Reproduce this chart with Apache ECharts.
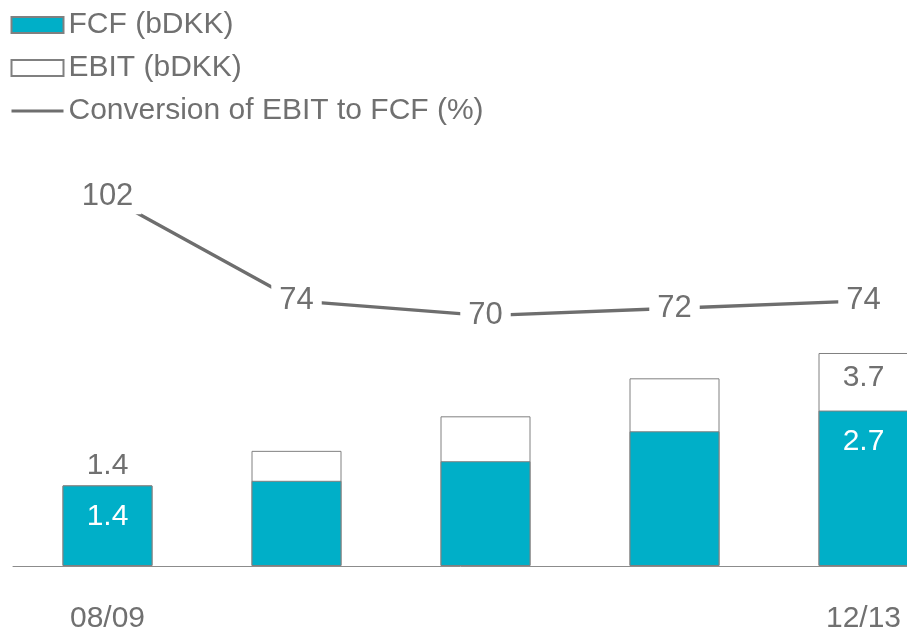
<!DOCTYPE html>
<html>
<head>
<meta charset="utf-8">
<title>FCF and EBIT</title>
<script src="https://cdn.jsdelivr.net/npm/echarts@6/dist/echarts.min.js"></script>
<style>
  html, body { margin: 0; padding: 0; background: #ffffff; }
  #chart { width: 907px; height: 633px; }
</style>
</head>
<body>
<div id="chart"></div>
<script>
// Fiscal years
const categories = ['08/09', '09/10', '10/11', '11/12', '12/13'];
// Free cash flow, bDKK
const fcfValues = [1.4, 1.48, 1.82, 2.34, 2.7];
// EBIT, bDKK
const ebitValues = [1.4, 2.0, 2.6, 3.26, 3.7];
// Conversion of EBIT to FCF, %
const conversionValues = [102, 74, 70, 72, 74];

const TEXT = '#707070';
const TEAL = '#00AFC8';
const BORDER = '#808080';
const LINE = '#6e6e6e';
const FONT = 'Liberation Sans, Arial, sans-serif';
const last = categories.length - 1;
const isEnd = i => i === 0 || i === last;

const ebitData = ebitValues.map((v, i) => ({
  value: v,
  label: {
    show: isEnd(i),
    position: i === 0 ? 'top' : 'insideTop',
    distance: i === 0 ? 5 : 10,
    color: TEXT
  }
}));

const fcfData = fcfValues.map((v, i) => ({
  value: v,
  label: { show: isEnd(i), position: 'insideTop', distance: 16, color: '#ffffff' }
}));

const chart = echarts.init(document.getElementById('chart'));
chart.setOption({
  animation: false,
  textStyle: { fontFamily: FONT },
  legend: {
    orient: 'vertical',
    left: 5,
    top: 5,
    itemWidth: 52,
    itemHeight: 16,
    itemGap: 13,
    textStyle: { fontSize: 30, color: TEXT, lineHeight: 30, fontFamily: FONT },
    data: [
      { name: 'FCF (bDKK)', icon: 'rect' },
      { name: 'EBIT (bDKK)', icon: 'rect' },
      { name: 'Conversion of EBIT to FCF (%)', lineStyle: { width: 3, color: LINE } }
    ]
  },
  grid: { left: 13, top: 163, width: 945, height: 403, outerBoundsMode: 'none', containLabel: false },
  xAxis: {
    type: 'category',
    data: categories,
    axisTick: { show: false },
    axisLine: { lineStyle: { color: '#8c8c8c', width: 1 } },
    axisLabel: {
      interval: 0,
      margin: 38,
      fontSize: 30,
      color: TEXT,
      fontFamily: FONT,
      formatter: (v, i) => (isEnd(i) ? v : '')
    }
  },
  yAxis: [
    { type: 'value', min: 0, max: 7, show: false, splitLine: { show: false } },
    { type: 'value', min: 2.6, max: 111.1, show: false, splitLine: { show: false } }
  ],
  series: [
    {
      name: 'EBIT (bDKK)',
      type: 'bar',
      barWidth: 90,
      barGap: '-100%',
      itemStyle: { color: '#ffffff', borderColor: BORDER, borderWidth: 1 },
      label: { fontSize: 30, fontFamily: FONT },
      data: ebitData
    },
    {
      name: 'FCF (bDKK)',
      type: 'bar',
      barWidth: 90,
      barGap: '-100%',
      itemStyle: { color: TEAL, borderColor: BORDER, borderWidth: 1 },
      label: { fontSize: 30, fontFamily: FONT },
      data: fcfData
    },
    {
      name: 'Conversion of EBIT to FCF (%)',
      type: 'line',
      yAxisIndex: 1,
      symbol: 'circle',
      symbolSize: 1,
      itemStyle: { color: 'rgba(0,0,0,0)', borderWidth: 0 },
      lineStyle: { color: LINE, width: 3.3 },
      label: {
        show: true,
        position: 'inside',
        fontSize: 31,
        color: TEXT,
        fontFamily: FONT,
        backgroundColor: '#ffffff',
        padding: [2, 8]
      },
      data: conversionValues,
      z: 3
    }
  ]
});
</script>
</body>
</html>
